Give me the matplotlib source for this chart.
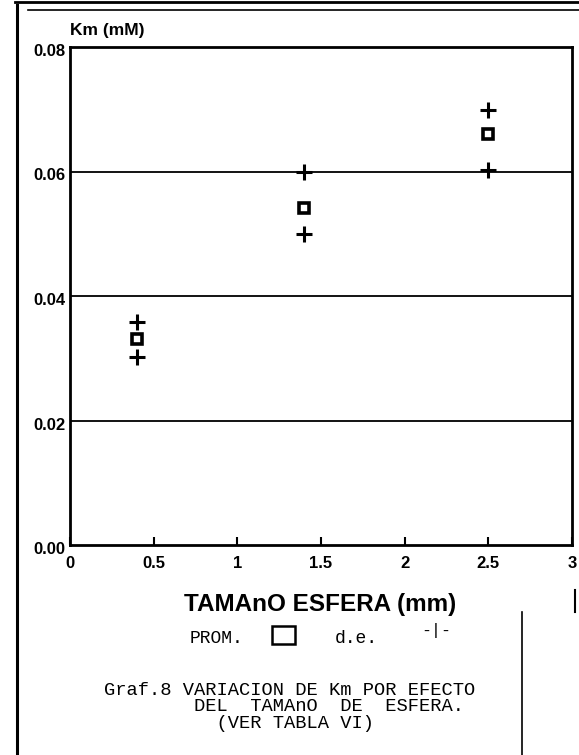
import matplotlib
matplotlib.use("Agg")
import matplotlib.pyplot as plt
from matplotlib.lines import Line2D
from matplotlib.patches import Rectangle
from matplotlib.transforms import ScaledTranslation

# ---- data ----
sizes_mm = [0.4, 1.4, 2.5]
km_mean = [0.0331, 0.0541, 0.0660]
km_upper = [0.0358, 0.0600, 0.0699]
km_lower = [0.0302, 0.0500, 0.0602]

x_ticks = [0, 0.5, 1, 1.5, 2, 2.5, 3]
x_ticklabels = ["0", "0.5", "1", "1.5", "2", "2.5", "3"]
y_ticks = [0.00, 0.02, 0.04, 0.06, 0.08]
y_ticklabels = ["0.00", "0.02", "0.04", "0.06", "0.08"]

caption_lines = ["Graf.8 VARIACION DE Km POR EFECTO",
                 "        DEL  TAMAnO  DE  ESFERA.",
                 "          (VER TABLA VI)"]

W, H = 579, 755
fig = plt.figure(figsize=(W / 100, H / 100), dpi=100)
fig.patch.set_facecolor("white")

ax = fig.add_axes([70 / W, 210 / H, 502 / W, 498 / H])
ax.set_xlim(0, 3)
ax.set_ylim(0, 0.08)

for s in ax.spines.values():
    s.set_linewidth(2.0)
    s.set_color("black")

# gridlines
for yv in y_ticks[1:-1]:
    ax.axhline(yv, color="black", lw=1.3, zorder=1)

# data markers
ax.plot(sizes_mm, km_upper, linestyle="none", marker="+", ms=11, mew=2.2, color="black", zorder=3)
ax.plot(sizes_mm, km_lower, linestyle="none", marker="+", ms=11, mew=2.2, color="black", zorder=3)
ax.plot(sizes_mm, km_mean, linestyle="none", marker="s", ms=7, mew=2.6, mfc="white", mec="black", zorder=3)

sans = "Liberation Sans"
ax.set_xticks(x_ticks)
ax.set_xticklabels(x_ticklabels, fontsize=12, fontweight="bold", family=sans)
ax.set_yticks(y_ticks)
ax.set_yticklabels(y_ticklabels, fontsize=12, fontweight="bold", family=sans)
ax.tick_params(axis="x", direction="in", length=6, width=1.5, pad=8)
ax.tick_params(axis="y", length=0, pad=3)
for lab in ax.get_yticklabels():
    lab.set_va("top")
    lab.set_transform(lab.get_transform() + ScaledTranslation(0, 3 / 100, fig.dpi_scale_trans))

# y label above axis
fig.text(70 / W, 1 - 30 / H, "Km (mM)", fontsize=12.5, fontweight="bold", family=sans,
         ha="left", va="center")

# x label
fig.text(320 / W, 1 - 605 / H, "TAMAnO ESFERA (mm)", fontsize=17.5, family=sans,
         ha="center", va="center", fontweight="bold")

mono = "Liberation Mono"
fig.text(190 / W, 1 - 643 / H, "PROM.", fontsize=13, family=mono, ha="left", va="baseline")
fig.text(335 / W, 1 - 643 / H, "d.e.", fontsize=13, family=mono, ha="left", va="baseline")
fig.text(436 / W, 1 - 630 / H, "-|-", fontsize=12, family=mono, ha="center", va="center")
# legend box symbol
fig.patches.append(Rectangle((272 / W, 1 - 644 / H), 23 / W, 18 / H,
                             transform=fig.transFigure, fill=False, lw=1.8, ec="black"))

fig.text(104 / W, 1 - 682 / H, "\n".join(caption_lines), fontsize=13.5, family=mono,
         ha="left", va="top", multialignment="left", linespacing=0.95)

# page border lines
fig.add_artist(Line2D([17 / W, 17 / W], [0, 1 - 5 / H], transform=fig.transFigure, color="black", lw=2.2))
fig.add_artist(Line2D([15 / W, 1], [1 - 2 / H, 1 - 2 / H], transform=fig.transFigure, color="black", lw=2.0))
fig.add_artist(Line2D([28 / W, 1], [1 - 10 / H, 1 - 10 / H], transform=fig.transFigure, color="black", lw=1.2))
fig.add_artist(Line2D([522 / W, 522 / W], [0, 1 - 612 / H], transform=fig.transFigure, color="black", lw=1.2))
fig.add_artist(Line2D([575 / W, 575 / W], [1 - 612 / H, 1 - 590 / H], transform=fig.transFigure, color="black", lw=1.5))

fig.savefig("out.png", dpi=100, facecolor="white")
